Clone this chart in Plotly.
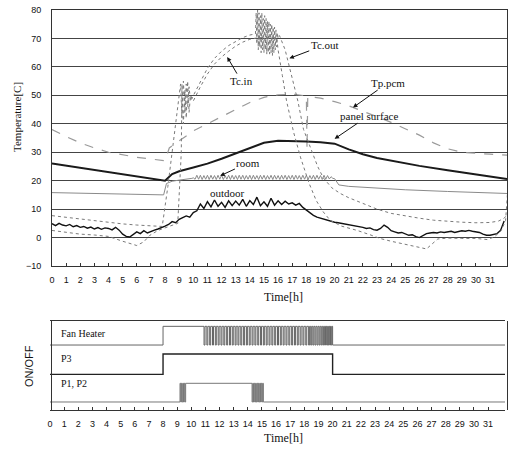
import plotly.graph_objects as go

hours = list(range(32))

# ---------------- top chart data ----------------
panel_t = [0, 8, 8.5, 9, 10, 11, 12, 13, 14, 15, 16, 17, 18, 19, 20, 21, 22, 23, 24, 26, 28, 30, 32.2]
panel_v = [26, 20, 22.3, 23.3, 24.6, 26, 27.7, 29.5, 31.5, 33.3, 34, 34, 33.8, 33.5, 33, 31, 29.3, 28, 27, 25.2, 23.7, 22.2, 20.6]

tp_t = [0, 1, 2, 3, 4, 5, 6, 7, 8, 8.3, 9, 10, 11, 12, 13, 14, 15, 16, 17, 18, 18.05, 18.1, 19, 20, 21, 22, 23, 24, 25, 26, 27, 28, 29, 30, 31, 32.2]
tp_v = [38, 35.5, 33.3, 31.5, 30, 29, 28.2, 27.6, 27, 31.5, 34, 37.5, 40, 42.5, 45, 47.5, 49.3, 50.2, 50.4, 49.8, 31, 49.7, 49, 47.8, 46.3, 44.5, 42.5, 40.5, 38.3, 36, 33.3, 31.2, 30.0, 29.6, 29.3, 29.0]

tcout_t = [0, 1, 2, 3, 4, 5, 6, 7, 7.8, 8.2, 8.6, 9.1, 9.2, 9.3, 9.4, 9.5, 9.6, 9.7, 9.8, 10.0, 10.5, 11, 11.5, 12, 12.5, 13, 13.5, 14, 14.4,
           14.45, 14.5, 14.55, 14.6, 14.65, 14.7, 14.75, 14.8, 14.85, 14.9, 14.95, 15.0, 15.05, 15.1, 15.15, 15.2, 15.25, 15.3,
           15.35, 15.4, 15.45, 15.5, 15.55, 15.6, 15.65, 15.7, 15.75, 15.8, 15.85, 15.9, 15.95, 16.0, 16.1,
           16.5, 16.8, 17.1, 17.4, 17.8, 18.4, 18.8, 19.2, 19.8, 20.4, 21, 22, 23, 24, 25, 26, 27, 28, 29, 30, 31, 31.6, 32, 32.2]
tcout_v = [7.7, 7.1, 6.4, 5.8, 5.2, 4.8, 4.4, 4.0, 3.9, 18, 34, 54, 42, 55, 44, 54, 46, 53, 48, 50, 55, 59.5, 63, 65.5, 67.5, 69, 70.3, 71.2, 71.6,
           79, 68, 80, 66, 79, 67, 78, 65, 79, 66, 77, 65, 78, 66, 77, 64.5, 76, 65,
           76, 64.5, 75, 65, 75, 64, 74, 65, 74, 66, 73, 67, 72, 70, 71,
           66, 60, 54, 48, 38, 30, 25, 21, 17.5, 15.5, 14, 12, 10, 8.5, 7.6, 6.8, 6.1, 5.7, 5.4, 5.2, 5.3, 5.8, 6.8, 8.0]

tcin_t = [0, 1, 2, 3, 4, 5, 5.5, 6, 6.5, 6.9, 7.5, 8, 8.5, 8.9, 9.15, 9.2, 9.3, 9.4, 9.5, 9.6, 9.7, 9.8, 10.0, 10.5, 11, 11.5, 12, 12.5, 13, 13.5,
          14, 14.5, 15, 15.5, 15.9, 16.0, 16.3, 16.6, 17.1, 17.6, 18.2, 18.7, 19.2, 19.7, 20.5, 21.6, 22.5, 23.2, 24, 25, 26, 26.5,
          27.3, 28, 29, 30, 30.8, 31.3, 31.8, 32.1, 32.3]
tcin_v = [2.5, 1.8, 1.2, 0.9, 0.4, -1.3, -2.1, -2.8, -1.5, 0.7, 2.5, 3.5, 4.3, 5.0, 30, 54, 40, 52, 42, 55, 44, 50, 48, 53, 57.5, 61, 63.5, 65.5, 67.3, 68.7,
          69.7, 70.2, 70.4, 70.5, 70.3, 66, 57, 48, 37, 28, 19, 13, 9, 6, 4, 2.5, 1.0, -0.3, -1.3, -2.3, -3.3, -4,
          -0.5, -0.2, -0.3, -0.3, -0.7, 0.2, 2.5, 6, 20]

room_t = [0, 4, 7.9, 8.1, 8.5, 9, 9.5, 9.9]
room_v = [15.8, 15.5, 15.0, 19.0, 19.8, 20.2, 20.4, 20.8]
room_zig = [21.0, 20.5, 21.9, 20.5, 21.9, 20.4, 21.8, 20.5, 21.9, 20.4, 21.9, 20.5, 21.8, 20.4, 21.9, 20.5,
            21.9, 20.4, 21.8, 20.5, 21.9, 20.4, 21.9, 20.5, 21.8, 20.4, 21.9, 20.5, 21.9, 20.4, 21.8, 20.5,
            21.9, 20.4, 21.9, 20.5, 21.8, 20.4, 21.9, 20.5, 21.9, 20.4, 21.8, 20.5, 21.9, 20.4, 21.9, 20.5,
            21.8, 20.4, 21.9, 20.5, 21.9, 20.4, 21.8, 20.5, 21.9, 20.4, 21.9, 20.5, 21.8, 20.4, 21.9, 20.5,
            21.9, 20.4, 21.8, 20.5, 21.9, 20.4, 21.9, 20.5, 21.8, 20.4, 21.9, 20.5, 21.8, 20.6, 21.4, 20.8, 20.7]
room_after_t = [20.3, 21, 23, 25, 28, 32.2]
room_after_v = [18.5, 18.0, 17.3, 16.8, 16.2, 15.5]

outdoor_v = [4.9, 4.2, 5.0, 4.4, 4.1, 4.6, 3.8, 4.2, 3.6, 3.9, 3.3, 3.7, 3.0, 3.5, 2.9, 3.4,
             3.2, 2.7, 3.6, 2.6, 1.2, 0.4, 0.2, 1.1, 2.0, 1.4, 2.4, 1.6, 2.2, 2.6, 3.0, 3.4,
             4.0, 4.6, 5.6, 5.2, 6.4, 7.0, 7.6, 7.2, 8.8, 9.4, 11.8, 10.2, 12.6, 10.8, 13.2, 11.0,
             12.4, 10.6, 12.9, 11.2, 12.8, 11.4, 13.4, 11.0, 13.0, 11.6, 14.2, 11.2, 12.6, 11.0, 13.8, 11.4,
             12.9, 11.6, 12.8, 11.8, 12.2, 11.4, 12.0, 10.6, 9.6, 8.6, 7.8, 7.2, 6.8, 6.4, 6.0, 5.6,
             5.4, 5.2, 5.0, 4.6, 4.6, 4.2, 4.0, 3.8, 3.6, 3.2, 3.4, 2.8, 2.6, 3.2, 4.4, 3.6,
             2.4, 2.0, 1.6, 1.8, 1.2, 0.8, 1.0, 0.3, 0.0, 0.8, 1.4, 1.6, 1.8, 1.6, 2.0, 1.8,
             2.0, 2.2, 1.8, 2.1, 2.4, 2.2, 2.5, 2.2, 2.0, 1.8, 1.2, 0.8, 0.8, 1.0, 1.4, 2.6, 5.8]
outdoor_t = [0.25 * i for i in range(len(outdoor_v))]

# ---------------- bottom chart data ----------------
fan_levels = (7.3, 9.4)
p3_levels = (4.0, 6.3)
p12_levels = (0.9, 3.0)
fan_on, fan_off = 8.0, 20.0
fan_pulse_starts = [10.9, 11.1, 11.3, 11.5, 11.7, 11.9, 12.1, 12.3, 12.5, 12.7, 12.9, 13.1, 13.3, 13.5, 13.7,
                    13.9, 14.1, 14.3, 14.5, 14.7, 14.9, 15.1, 15.3, 15.5, 15.7, 15.9, 16.1, 16.3, 16.5, 16.7,
                    16.9, 17.1, 17.3, 17.5, 17.7, 17.9, 18.1, 18.3, 18.45, 18.6, 18.75, 18.9, 19.05, 19.2,
                    19.35, 19.5, 19.6, 19.7, 19.8, 19.9]
fan_pulse_ends = [10.97, 11.17, 11.37, 11.57, 11.77, 11.97, 12.17, 12.37, 12.57, 12.77, 12.97, 13.17, 13.37, 13.57, 13.77,
                  13.97, 14.17, 14.37, 14.57, 14.77, 14.97, 15.17, 15.37, 15.57, 15.77, 15.97, 16.17, 16.37, 16.57, 16.77,
                  16.97, 17.17, 17.37, 17.57, 17.77, 17.97, 18.17, 18.37, 18.52, 18.67, 18.82, 18.97, 19.12, 19.27,
                  19.42, 19.55, 19.65, 19.75, 19.85, 19.95]
p3_on, p3_off = 8.0, 20.0
p12_switch_t = [9.2, 9.25, 9.3, 9.35, 9.4, 9.45, 9.5, 9.55, 9.6,
                14.3, 14.35, 14.4, 14.45, 14.5, 14.55, 14.6, 14.65, 14.7, 14.75, 14.8, 14.85, 14.9, 14.95, 15.0, 15.05, 15.1, 15.15]
p12_switch_s = [1, 0, 1, 0, 1, 0, 1, 0, 1,
                0, 1, 0, 1, 0, 1, 0, 1, 0, 1, 0, 1, 0, 1, 0, 1, 0, 0]

X_END = 32.3

# build step series
fan_x = [0, fan_on]
fan_y = [fan_levels[0], fan_levels[1]]
for s, e in zip(fan_pulse_starts, fan_pulse_ends):
    fan_x += [s, e]
    fan_y += [fan_levels[0], fan_levels[1]]
fan_x += [fan_off, X_END]
fan_y += [fan_levels[0], fan_levels[0]]

p3_x = [0, p3_on, p3_off, X_END]
p3_y = [p3_levels[0], p3_levels[1], p3_levels[0], p3_levels[0]]

p12_x = [0] + p12_switch_t + [X_END]
p12_y = [p12_levels[0]] + [p12_levels[s] for s in p12_switch_s] + [p12_levels[0]]

fig = go.Figure()

def add(x, y, color, width, dash='solid', xa='x', ya='y', shape='linear'):
    fig.add_trace(go.Scatter(x=x, y=y, mode='lines', xaxis=xa, yaxis=ya,
                             line=dict(color=color, width=width, dash=dash, shape=shape),
                             hoverinfo='skip'))

add(tp_t, tp_v, '#9a9a9a', 1.2, 'dash')
add(panel_t, panel_v, '#1a1a1a', 2.0)
add(room_t + [10.0 + 0.125 * i for i in range(len(room_zig))] + room_after_t,
    room_v + room_zig + room_after_v, '#8a8a8a', 1.0)
add(outdoor_t, outdoor_v, '#111111', 1.4)
add(tcin_t, tcin_v, '#7a7a7a', 1.0, 'dot')
add(tcout_t, tcout_v, '#7a7a7a', 1.0, 'dot')

add(fan_x, fan_y, '#666666', 1.0, xa='x2', ya='y2', shape='hv')
add(p3_x, p3_y, '#222222', 1.4, xa='x2', ya='y2', shape='hv')
add(p12_x, p12_y, '#777777', 1.0, xa='x2', ya='y2', shape='hv')

tickfont = dict(family='Liberation Sans', size=9, color='#111111')
serif = 'Liberation Serif'

common_x = dict(range=[0, 32.2], tickvals=hours, ticks='inside', ticklen=3, tickcolor='#333',
                showline=True, mirror=True, linecolor='#333', linewidth=1, showgrid=False,
                zeroline=False, tickfont=tickfont, automargin=False, ticklabelstandoff=5)

fig.update_layout(
    width=511, height=449, margin=dict(l=0, r=0, t=0, b=0),
    paper_bgcolor='white', plot_bgcolor='white', showlegend=False,
    xaxis=dict(domain=[52 / 511, 507 / 511], anchor='y', **common_x),
    yaxis=dict(domain=[1 - 266 / 449, 1 - 10 / 449], range=[-10, 80], dtick=10, tick0=0,
               showgrid=True, gridcolor='#444', gridwidth=1, showline=True, mirror=True,
               linecolor='#333', ticks='', zeroline=False, tickfont=tickfont,
               automargin=False, ticklabelstandoff=8),
    xaxis2=dict(domain=[50 / 511, 505 / 511], anchor='y2', **common_x),
    yaxis2=dict(domain=[1 - 410 / 449, 1 - 321 / 449], range=[0, 10], showticklabels=False,
                showgrid=False, showline=True, mirror=True, linecolor='#333', ticks='',
                zeroline=False, automargin=False),
)

ann = []
def label(text, x, y, ax=None, ay=None, size=11):
    d = dict(text=text, xref='x', yref='y', font=dict(family=serif, size=size, color='#111'))
    if ax is None:
        d.update(x=x, y=y, showarrow=False)
    else:
        d.update(x=x, y=y, ax=ax, ay=ay, axref='x', ayref='y', showarrow=True,
                 arrowhead=2, arrowsize=0.9, arrowwidth=1, arrowcolor='#111')
    ann.append(d)

label('Tc.out', 16.8, 63, 19.3, 67.7)
label('Tc.in', 12.4, 63.5, 13.4, 55)
label('Tp.pcm', 21.3, 45.7, 23.8, 54.5)
label('panel surface', 20.0, 34.7, 22.4, 42.8)
label('room', 11.9, 21.7, 13.9, 26.3)
label('outdoor', 12.4, 15.8)

def ptext(text, px, py, size=11, family=serif, angle=0, xanchor='center'):
    ann.append(dict(text=text, xref='paper', yref='paper', x=px / 511, y=1 - py / 449,
                    showarrow=False, xanchor=xanchor, yanchor='middle', textangle=angle,
                    font=dict(family=family, size=size, color='#111')))

ptext('Temperature[C]', 17, 117, size=11, angle=-90)
ptext('Time[h]', 283, 297, size=12)
ptext('Time[h]', 283, 438, size=12)
ptext('ON/OFF', 29, 366, size=11, family='Liberation Sans', angle=-90)
ptext('Fan Heater', 59, 333, size=10, xanchor='left')
ptext('P3', 59, 358, size=10, xanchor='left')
ptext('P1, P2', 59, 383, size=10, xanchor='left')

fig.update_layout(annotations=ann)
fig.write_html('out.html', config={'displayModeBar': False},
               post_script="document.body.style.margin='0';document.body.style.padding='0';")
